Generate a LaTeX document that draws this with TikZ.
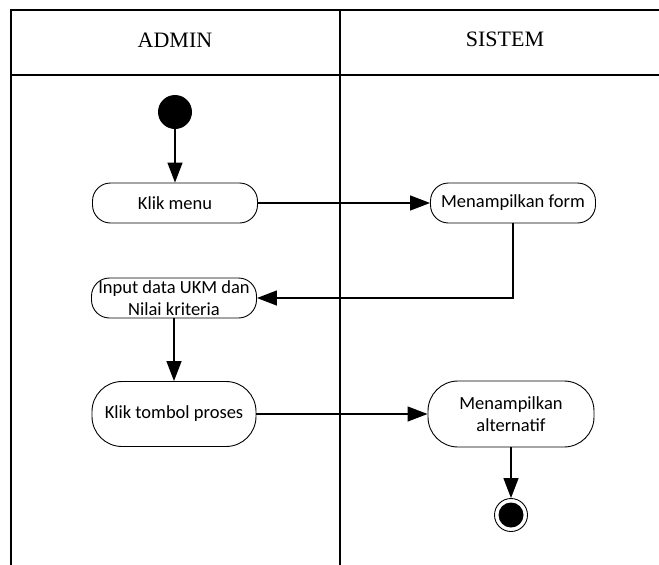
\documentclass[tikz,border=0pt]{standalone}
\usepackage{fontspec}
\usepackage{tikz}
\usetikzlibrary{arrows.meta,positioning}
\newfontfamily\actfont{Carlito}
\newfontfamily\laneheadfont{Liberation Serif}

\begin{document}
\begin{tikzpicture}[x=1pt, y=-1pt,
    lane/.style={line width=2pt},
    aksi/.style={draw, line width=0.9pt, rounded corners=18pt, align=center,
      font=\actfont\fontsize{18.5}{22}\selectfont, inner sep=0pt},
    alur/.style={line width=1.3pt, -{Triangle[length=20pt,width=15pt]}}]
  \useasboundingbox (0,0) rectangle (659,565);
  % Swimlanes
  \draw[lane] (659,10) -- (11,10) -- (11,565);
  \draw[lane] (340,10) -- (340,565);
  \draw[lane] (11,75) -- (659,75);
  \node[font=\laneheadfont\fontsize{22}{26}\selectfont] (admin) at (175,40) {ADMIN};
  \node[font=\laneheadfont\fontsize{22}{26}\selectfont] (sistem) at (505,39) {SISTEM};
  % Admin lane
  \node[circle, fill, minimum size=34pt, inner sep=0pt] (mulai) at (175,112) {};
  \node[aksi, minimum width=165pt, minimum height=40pt] (menu) at (175,203) {Klik menu};
  \node[aksi, minimum width=165pt, minimum height=40pt] (input) at (174,298)
    {Input data UKM dan\\Nilai kriteria};
  \node[aksi, minimum width=164pt, minimum height=65pt, rounded corners=30pt] (proses)
    at (174,414) {Klik tombol proses};
  % Sistem lane
  \node[aksi, minimum width=165pt, minimum height=40pt] (form) at (513,203) {Menampilkan form};
  \node[aksi, minimum width=166pt, minimum height=66pt, rounded corners=30pt] (alternatif)
    at (511,414) {Menampilkan\\alternatif};
  \node[circle, draw, line width=0.9pt, minimum size=33pt, inner sep=0pt] (akhir) at (511,515) {};
  \fill (akhir.center) circle (12.5pt);
  % Flows
  \draw[alur] (mulai) -- (menu);
  \draw[alur] (menu) -- (form);
  \draw[alur] (form.south) |- (input.east);
  \draw[alur] (input) -- (proses);
  \draw[alur] (proses) -- (alternatif);
  \draw[alur] (alternatif) -- (akhir);
\end{tikzpicture}
\end{document}
